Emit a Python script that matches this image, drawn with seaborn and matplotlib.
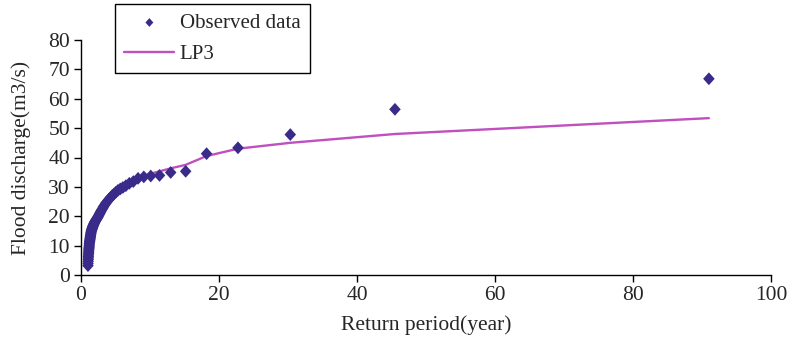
import matplotlib
matplotlib.use("Agg")
import matplotlib.pyplot as plt
import seaborn as sns
import pandas as pd

# Return periods (years) of the ranked annual floods
return_period = [
    91.00, 45.50, 30.33, 22.75, 18.20, 15.17, 13.00, 11.38, 10.11, 9.10,
    8.27, 7.58, 7.00, 6.50, 6.07, 5.69, 5.35, 5.06, 4.79, 4.55,
    4.33, 4.14, 3.96, 3.79, 3.64, 3.50, 3.37, 3.25, 3.14, 3.03,
    2.94, 2.84, 2.76, 2.68, 2.60, 2.53, 2.46, 2.39, 2.33, 2.28,
    2.22, 2.17, 2.12, 2.07, 2.02, 1.98, 1.94, 1.90, 1.86, 1.82,
    1.78, 1.75, 1.72, 1.69, 1.65, 1.63, 1.60, 1.57, 1.54, 1.52,
    1.49, 1.47, 1.44, 1.42, 1.40, 1.38, 1.36, 1.34, 1.32, 1.30,
    1.28, 1.26, 1.25, 1.23, 1.21, 1.20, 1.18, 1.17, 1.15, 1.14,
    1.12, 1.11, 1.10, 1.08, 1.07, 1.06, 1.05, 1.03, 1.02, 1.01,
]

# Observed flood discharges (m3/s), ranked from largest
observed = [
    66.8, 56.4, 47.8, 43.3, 41.3, 35.3, 34.9, 33.9, 33.7, 33.4,
    32.9, 31.8, 31.2, 30.4, 29.8, 29.3, 28.8, 28.2, 27.6, 27.1,
    26.5, 26.0, 25.5, 25.0, 24.6, 24.1, 23.6, 23.2, 22.7, 22.3,
    21.9, 21.5, 21.1, 20.8, 20.4, 20.1, 19.8, 19.5, 19.3, 19.1,
    18.9, 18.7, 18.5, 18.3, 18.1, 17.9, 17.7, 17.5, 17.3, 17.1,
    16.9, 16.7, 16.5, 16.3, 16.1, 15.9, 15.7, 15.5, 15.3, 15.1,
    14.9, 14.6, 14.3, 14.0, 13.7, 13.4, 13.1, 12.8, 12.5, 12.2,
    11.9, 11.6, 11.3, 11.0, 10.6, 10.2, 9.8, 9.4, 9.0, 8.6,
    8.2, 7.8, 7.3, 6.8, 6.3, 5.8, 5.2, 4.6, 3.9, 3.2,
]

# Log-Pearson type III fitted discharges at the same return periods
lp3 = [
    53.4, 48.0, 45.0, 43.0, 40.5, 37.5, 36.3, 35.3, 34.5, 33.8,
    33.2, 32.4, 31.6, 30.9, 30.2, 29.6, 29.0, 28.4, 27.8, 27.3,
    26.8, 26.3, 25.8, 25.3, 24.9, 24.4, 24.0, 23.6, 23.2, 22.8,
    22.4, 22.0, 21.6, 21.3, 20.9, 20.6, 20.2, 19.9, 19.6, 19.3,
    19.0, 18.7, 18.4, 18.1, 17.8, 17.5, 17.2, 16.9, 16.6, 16.3,
    16.0, 15.7, 15.4, 15.1, 14.8, 14.5, 14.2, 13.9, 13.6, 13.3,
    13.0, 12.7, 12.4, 12.1, 11.8, 11.5, 11.2, 10.9, 10.6, 10.3,
    10.0, 9.7, 9.4, 9.1, 8.8, 8.5, 8.2, 7.9, 7.6, 7.3,
    7.0, 6.7, 6.4, 6.0, 5.6, 5.2, 4.8, 4.4, 4.0, 3.5,
]

x_ticks = [0, 20, 40, 60, 80, 100]
y_ticks = [0, 10, 20, 30, 40, 50, 60, 70, 80]

df = pd.DataFrame({"T": return_period, "Q": observed, "LP3": lp3})

sns.set_style("ticks")
plt.rcParams["font.family"] = ["Liberation Serif", "DejaVu Serif"]
plt.rcParams["font.size"] = 15

fig = plt.figure(figsize=(7.91, 3.40), dpi=100)
ax = fig.add_axes([81 / 791, 1 - 275 / 340, 690 / 791, 235 / 340])

diamond = [(0, 1), (0.9, 0), (0, -1), (-0.9, 0), (0, 1)]

sns.lineplot(data=df, x="T", y="LP3", ax=ax, color="#c050c0", linewidth=1.7,
             label="LP3", zorder=2, sort=True, estimator=None)
sns.scatterplot(data=df, x="T", y="Q", ax=ax, marker=diamond, s=85,
                color="#3a2a8a", edgecolor="none", label="Observed data",
                zorder=3)

ax.set_xlim(0, 100)
ax.set_ylim(0, 80)
ax.set_xticks(x_ticks)
ax.set_yticks(y_ticks)
ax.set_xlabel("Return period(year)", fontsize=15.5, labelpad=7)
ax.set_ylabel("Flood discharge(m3/s)", fontsize=15.5, labelpad=12)
ax.tick_params(axis="both", direction="out", length=5, width=1,
               color="black", labelsize=15.5, pad=3)
for side in ("top", "right"):
    ax.spines[side].set_visible(False)
for side in ("left", "bottom"):
    ax.spines[side].set_color("black")
    ax.spines[side].set_linewidth(1)

handles, labels = ax.get_legend_handles_labels()
order = [labels.index("Observed data"), labels.index("LP3")]
leg = ax.legend([handles[i] for i in order], [labels[i] for i in order],
                loc="upper left", bbox_to_anchor=(115 / 791, 1 - 4 / 340),
                bbox_transform=fig.transFigure, frameon=True, fancybox=False,
                edgecolor="black", framealpha=1, fontsize=15,
                handlelength=2.4, handletextpad=0.25, borderpad=0.45,
                labelspacing=0.55, borderaxespad=0)
leg.get_frame().set_linewidth(1)
for h in leg.legend_handles:
    if hasattr(h, "set_sizes"):
        h.set_sizes([40])

fig.savefig("out.png", dpi=100)
